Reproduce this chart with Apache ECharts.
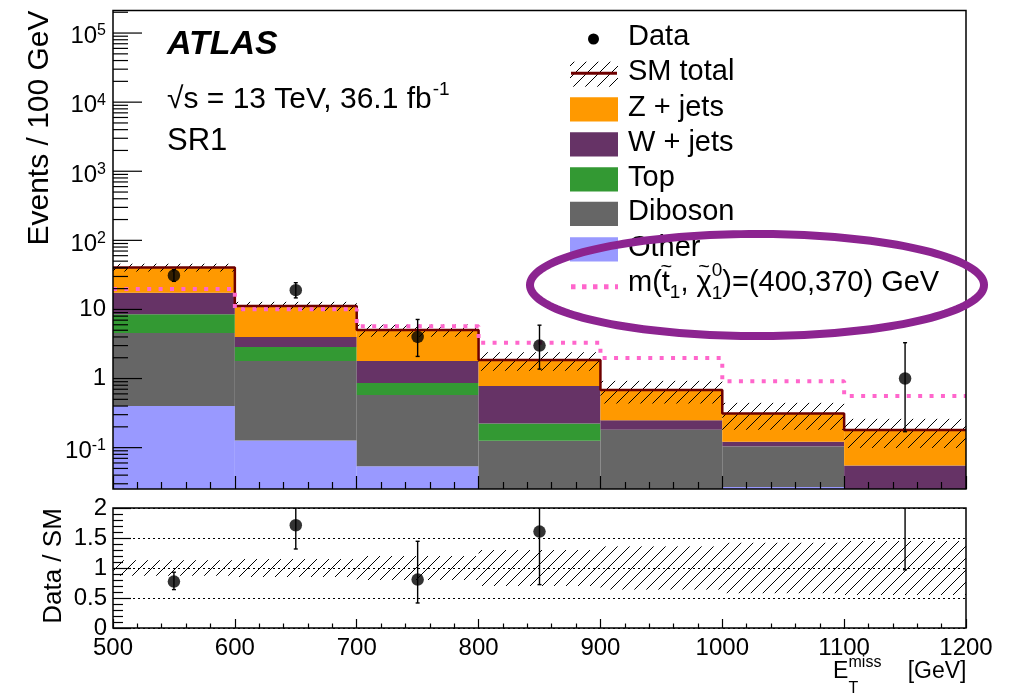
<!DOCTYPE html>
<html><head><meta charset="utf-8">
<script src="https://cdn.jsdelivr.net/npm/echarts@6/dist/echarts.min.js"></script>
<style>html,body{margin:0;padding:0;background:#fff}#c{width:1010px;height:693px}</style>
</head><body><div id="c"></div>
<script>
// ---------------- data ----------------
const binEdges   = [500, 600, 700, 800, 900, 1000, 1100, 1200];
const zJets      = [23.1, 7.22, 3.24, 1.07, 0.43, 0.191, 0.125];
const wJets      = [9.0, 1.12, 0.93, 0.556, 0.068, 0.018, 0.045];
const topQuark   = [3.95, 1.07, 0.28, 0.098, 0.002, 0.001, 0.003];
const diboson    = [4.15, 1.663, 0.526, 0.111, 0.162, 0.076, 0.004];
const other      = [0.40, 0.127, 0.054, 0.015, 0.018, 0.027, 0.003];
const smRelUnc   = [0.13, 0.15, 0.20, 0.30, 0.36, 0.42, 0.45];
const signal     = [19.7, 10.1, 5.7, 3.3, 1.98, 0.91, 0.56];
const dataCounts = [31, 19, 4, 3, 0, 0, 1];
const dataErrUp  = [6.6, 5.4, 3.16, 2.92, 0, 0, 2.3];
const dataErrDown= [5.5, 4.3, 1.91, 1.63, 0, 0, 0.83];
const ratioVals    = [0.773, 1.712, 0.807, 1.607, null, null, 5.5];
const ratioErrLow  = [0.64, 1.317, 0.417, 0.723, null, null, 0.97];
const ratioErrHigh = [0.93, 2.2, 1.445, 2.6, null, null, 18];
const yMajorTicks  = [0.1, 1, 10, 100, 1000, 10000, 100000];
const yTickLabels  = [['10','-1'], ['1',''], ['10',''], ['10','2'], ['10','3'], ['10','4'], ['10','5']];
const legendLabels = ['Data', 'SM total', 'Z + jets', 'W + jets', 'Top', 'Diboson', 'Other'];
const yMin = 0.0252, yMax = 2.12e5;

// ---------------- helpers ----------------
const FONT = "'Liberation Sans', Arial, Helvetica, sans-serif";
const fnt = (s, st) => (st ? st + ' ' : '') + s + 'px ' + FONT;
const mctx = document.createElement('canvas').getContext('2d');
const tw = (t, f) => { mctx.font = f; return mctx.measureText(t).width; };
const COLORS = { z: '#FF9900', w: '#663366', top: '#339933', dib: '#666666', oth: '#9999FF', sig: '#FF66CC', sm: '#6e0000' };
const nb = binEdges.length - 1;

function hatchLines(x0, y0, x1, y1, s, w) {
  const out = [];
  const cStart = Math.ceil((x0 + y0) / s) * s;
  for (let c = cStart; c <= x1 + y1; c += s) {
    const xa = Math.max(x0, c - y1), xb = Math.min(x1, c - y0);
    if (xb > xa) out.push({ type: 'line', shape: { x1: xa, y1: c - xa, x2: xb, y2: c - xb }, style: { stroke: '#000', lineWidth: w || 1 } });
  }
  return out;
}
function clipBox(params, api) {
  const cs = params.coordSys;
  const a = api.coord([api.value(0), api.value(3)]);
  const b = api.coord([api.value(1), api.value(2)]);
  const top = Math.max(Math.min(a[1], b[1]), cs.y);
  const bot = Math.min(Math.max(a[1], b[1]), cs.y + cs.height);
  const left = Math.max(Math.min(a[0], b[0]), cs.x);
  const right = Math.min(Math.max(a[0], b[0]), cs.x + cs.width);
  if (bot - top <= 0.01 || right - left <= 0.01) return null;
  return { x: left, y: top, w: right - left, h: bot - top };
}
const rectRender = color => (params, api) => {
  const r = clipBox(params, api);
  if (!r) return null;
  return { type: 'rect', shape: { x: r.x, y: r.y, width: r.w, height: r.h }, style: { fill: color } };
};
const hatchRender = (params, api) => {
  const r = clipBox(params, api);
  if (!r) return null;
  return { type: 'group', children: hatchLines(r.x, r.y, r.x + r.w, r.y + r.h, 12, 1) };
};
const errRender = (params, api) => {
  const cs = params.coordSys;
  const x = api.value(0);
  const a = api.coord([x, api.value(1)]), b = api.coord([x, api.value(2)]);
  let y1 = Math.min(a[1], b[1]), y2 = Math.max(a[1], b[1]);
  const top = cs.y, bot = cs.y + cs.height;
  const capT = y1 >= top, capB = y2 <= bot;
  y1 = Math.max(y1, top); y2 = Math.min(y2, bot);
  if (y2 <= y1) return null;
  const px = a[0];
  const st = { stroke: '#000', lineWidth: 1.4 };
  const ch = [{ type: 'line', shape: { x1: px, y1: y1, x2: px, y2: y2 }, style: st }];
  if (capT) ch.push({ type: 'line', shape: { x1: px - 2, y1: y1, x2: px + 2, y2: y1 }, style: st });
  if (capB) ch.push({ type: 'line', shape: { x1: px - 2, y1: y2, x2: px + 2, y2: y2 }, style: st });
  return { type: 'group', children: ch };
};
const frameRender = (params) => {
  const c = params.coordSys;
  return { type: 'rect', shape: { x: c.x, y: c.y, width: c.width, height: c.height }, style: { fill: 'none', stroke: '#000', lineWidth: 1.5 } };
};

// ---------------- build series ----------------
const components = [
  { name: 'Other', vals: other, color: COLORS.oth },
  { name: 'Diboson', vals: diboson, color: COLORS.dib },
  { name: 'Top', vals: topQuark, color: COLORS.top },
  { name: 'W + jets', vals: wJets, color: COLORS.w },
  { name: 'Z + jets', vals: zJets, color: COLORS.z }
];
const cum = new Array(nb).fill(0);
const series = [];
components.forEach(c => {
  const rows = [];
  for (let i = 0; i < nb; i++) {
    const lo = cum[i], hi = lo + c.vals[i];
    cum[i] = hi;
    rows.push([binEdges[i], binEdges[i + 1], Math.max(lo, 1e-6), hi]);
  }
  series.push({ type: 'custom', name: c.name, xAxisIndex: 0, yAxisIndex: 0, z: 1, silent: true,
    encode: { x: [0, 1], y: [2, 3] }, data: rows, renderItem: rectRender(c.color) });
});
const smTotal = cum.slice();

// SM uncertainty hatch (main)
series.push({ type: 'custom', xAxisIndex: 0, yAxisIndex: 0, z: 3, silent: true, encode: { x: [0, 1], y: [2, 3] },
  data: smTotal.map((t, i) => [binEdges[i], binEdges[i + 1], t * (1 - smRelUnc[i]), t * (1 + smRelUnc[i])]),
  renderItem: hatchRender });

// step lines
const stepData = arr => arr.map((v, i) => [binEdges[i], v]).concat([[binEdges[nb], arr[nb - 1]]]);
series.push({ type: 'line', xAxisIndex: 0, yAxisIndex: 0, z: 4, step: 'end', symbol: 'none', silent: true,
  data: stepData(smTotal), lineStyle: { color: COLORS.sm, width: 2.5 } });
series.push({ type: 'line', xAxisIndex: 0, yAxisIndex: 0, z: 5, step: 'end', symbol: 'none', silent: true,
  data: stepData(signal), lineStyle: { color: COLORS.sig, width: 4, type: [4, 7.4], cap: 'butt' } });

// data
const centers = binEdges.slice(0, nb).map((e, i) => (e + binEdges[i + 1]) / 2);
const dataRows = [], dataErrRows = [];
dataCounts.forEach((c, i) => {
  if (c > 0) {
    dataRows.push([centers[i], c]);
    dataErrRows.push([centers[i], c - dataErrDown[i], c + dataErrUp[i]]);
  }
});
series.push({ type: 'custom', xAxisIndex: 0, yAxisIndex: 0, z: 6, silent: true, encode: { x: 0, y: [1, 2] },
  data: dataErrRows, renderItem: errRender });
series.push({ type: 'scatter', xAxisIndex: 0, yAxisIndex: 0, z: 7, silent: true, symbol: 'circle', symbolSize: 12.5,
  itemStyle: { color: '#000' }, data: dataRows });

// main y ticks (log), labels
const yTickRows = [];
yMajorTicks.forEach((v, i) => yTickRows.push([binEdges[0], v, 1, i]));
for (let d = -2; d <= 5; d++) for (let k = 2; k <= 9; k++) {
  const v = k * Math.pow(10, d);
  if (v > yMin && v < yMax) yTickRows.push([binEdges[0], v, 0, -1]);
}
series.push({ type: 'custom', xAxisIndex: 0, yAxisIndex: 0, z: 25, silent: true, encode: { x: 0, y: 1 },
  data: yTickRows,
  renderItem: (params, api) => {
    const p = api.coord([api.value(0), api.value(1)]);
    const major = api.value(2) === 1;
    const ch = [{ type: 'line', shape: { x1: p[0], y1: p[1], x2: p[0] + (major ? 29 : 15), y2: p[1] }, style: { stroke: '#000', lineWidth: 1.2 } }];
    if (major) {
      const lab = yTickLabels[api.value(3)];
      const rx = p[0] - 7;
      if (lab[1]) {
        const ew = tw(lab[1], fnt(16));
        ch.push({ type: 'text', x: rx - ew, y: p[1] + 3.7, style: { text: lab[0], font: fnt(24), fill: '#000', textAlign: 'right', align: 'right', textVerticalAlign: 'middle', verticalAlign: 'middle' } });
        ch.push({ type: 'text', x: rx - ew, y: p[1] - 2, style: { text: lab[1], font: fnt(16), fill: '#000', textAlign: 'left', align: 'left', textVerticalAlign: 'middle', verticalAlign: 'middle' } });
      } else {
        ch.push({ type: 'text', x: rx, y: p[1], style: { text: lab[0], font: fnt(24), fill: '#000', textAlign: 'right', align: 'right', textVerticalAlign: 'middle', verticalAlign: 'middle' } });
      }
    }
    return { type: 'group', children: ch };
  } });

// frames
series.push({ type: 'custom', xAxisIndex: 0, yAxisIndex: 0, z: 30, silent: true, encode: { x: 0, y: 1 }, data: [[600, 1]], renderItem: frameRender });
series.push({ type: 'custom', xAxisIndex: 1, yAxisIndex: 1, z: 30, silent: true, encode: { x: 0, y: 1 }, data: [[600, 1]], renderItem: frameRender });

// ratio panel
series.push({ type: 'custom', xAxisIndex: 1, yAxisIndex: 1, z: 2, silent: true, encode: { x: [0, 1], y: [2, 3] },
  data: smRelUnc.map((u, i) => [binEdges[i], binEdges[i + 1], 1 - u, 1 + u]), renderItem: hatchRender });
const rErr = [], rPts = [];
ratioVals.forEach((r, i) => {
  if (ratioErrLow[i] != null) rErr.push([centers[i], ratioErrLow[i], ratioErrHigh[i]]);
  if (r != null) rPts.push([centers[i], r]);
});
series.push({ type: 'custom', xAxisIndex: 1, yAxisIndex: 1, z: 6, silent: true, encode: { x: 0, y: [1, 2] }, data: rErr, renderItem: errRender });
series.push({ type: 'scatter', xAxisIndex: 1, yAxisIndex: 1, z: 7, silent: true, symbol: 'circle', symbolSize: 12.5, clip: true,
  itemStyle: { color: '#000' }, data: rPts });

// ---------------- graphic: texts, legend, ellipse ----------------
const G = [];
const txt = (text, x, y, size, o = {}) => G.push({ type: 'text', x, y, z: 50, rotation: o.rot || 0,
  style: { text, font: fnt(size, o.st), fill: '#000', textAlign: o.al || 'left', align: o.al || 'left', textVerticalAlign: 'middle', verticalAlign: 'middle' } });

txt('ATLAS', 167, 45, 34, { st: 'italic bold' });
const s1 = '\u221As = 13 TeV, 36.1 fb';
txt(s1, 167, 100, 30);
txt('-1', 167 + tw(s1, fnt(30)) + 1, 90, 19);
txt('SR1', 167, 141, 31);

// axis titles
txt('Events / 100 GeV', 40, 128, 30, { al: 'center', rot: Math.PI / 2 });
txt('Data / SM', 54, 566, 26, { al: 'center', rot: Math.PI / 2 });
txt('E', 833, 671.5, 23);
txt('miss', 848.5, 663, 16);
txt('T', 848.5, 689, 16);
txt('[GeV]', 966.5, 671.5, 23, { al: 'right' });

// legend
const LX = 570, LW = 48, TX = 628;
const rowY = [36.7, 72, 107.5, 142.5, 177.5, 212, 247.5];
G.push({ type: 'circle', z: 50, shape: { cx: 593.5, cy: 39, r: 5.5 }, style: { fill: '#000' } });
G.push({ type: 'group', z: 50, children: hatchLines(LX, 61.7, LX + LW, 86.7, 12, 1) });
G.push({ type: 'line', z: 51, shape: { x1: LX + 1, y1: 73.3, x2: LX + LW - 1, y2: 73.3 }, style: { stroke: COLORS.sm, lineWidth: 3 } });
[COLORS.z, COLORS.w, COLORS.top, COLORS.dib, COLORS.oth].forEach((c, k) => {
  G.push({ type: 'rect', z: 50, shape: { x: LX, y: rowY[k + 2] - 10.3, width: LW, height: 24.4 }, style: { fill: c } });
});
legendLabels.forEach((l, k) => txt(l, TX, rowY[k], 29));
G.push({ type: 'line', z: 50, shape: { x1: LX + 1, y1: 286.7, x2: LX + LW, y2: 286.7 }, style: { stroke: COLORS.sig, lineWidth: 5, lineDash: [4.5, 6.5] } });
(function () {
  const f29 = fnt(29), f19 = fnt(19);
  let x = TX; const y = 283;
  txt('m(', x, y, 29); x += tw('m(', f29);
  const wt = tw('t', f29);
  txt('~', x + wt / 2 + 0.5, y - 16, 20, { al: 'center' });
  txt('t', x, y, 29); x += wt;
  txt('1', x, y + 10, 19); x += tw('1', f19);
  txt(', ', x, y, 29); x += tw(', ', f29);
  const wc = tw('\u03C7', f29);
  txt('~', x + wc / 2, y - 16, 20, { al: 'center' });
  txt('\u03C7', x, y, 29); x += wc;
  txt('0', x, y - 12, 19);
  txt('1', x, y + 11, 19); x += tw('0', f19);
  txt(')=(400,370) GeV', x, y, 29);
})();

// highlight ellipse
const ell = [];
for (let k = 0; k < 180; k++) { const t = k / 180 * Math.PI * 2; ell.push([757 + 227 * Math.cos(t), 285 + 51 * Math.sin(t)]); }
G.push({ type: 'polygon', z: 60, shape: { points: ell }, style: { fill: 'none', stroke: '#8c2490', lineWidth: 8 } });

// ---------------- option ----------------
const axBase = { type: 'value', min: binEdges[0], max: binEdges[nb], interval: 100, z: 20, axisLine: { show: false }, splitLine: { show: false } };
const option = {
  animation: false,
  backgroundColor: '#fff',
  grid: [
    { left: 113, top: 10.5, width: 853, height: 478.5, outerBoundsMode: 'none' },
    { left: 113, top: 508, width: 853, height: 120, outerBoundsMode: 'none' }
  ],
  xAxis: [
    Object.assign({}, axBase, { gridIndex: 0, axisLabel: { show: false },
      axisTick: { inside: true, length: 13, lineStyle: { color: '#000', width: 1.2 } },
      minorTick: { show: true, splitNumber: 5, length: 7, lineStyle: { color: '#000', width: 1.2 } } }),
    Object.assign({}, axBase, { gridIndex: 1,
      axisLabel: { show: true, fontSize: 24, fontFamily: FONT, color: '#000', margin: 8, formatter: v => String(v) },
      axisTick: { inside: true, length: 9, lineStyle: { color: '#000', width: 1.2 } },
      minorTick: { show: true, splitNumber: 5, length: 4.5, lineStyle: { color: '#000', width: 1.2 } } })
  ],
  yAxis: [
    { gridIndex: 0, type: 'log', logBase: 10, min: yMin, max: yMax, axisLine: { show: false }, axisLabel: { show: false },
      axisTick: { show: false }, minorTick: { show: false }, splitLine: { show: false } },
    { gridIndex: 1, type: 'value', min: 0, max: 2, interval: 0.5, z: 20, axisLine: { show: false },
      axisLabel: { fontSize: 24, fontFamily: FONT, color: '#000', margin: 6, formatter: v => String(v) },
      axisTick: { inside: true, length: 18, lineStyle: { color: '#000', width: 1.2 } },
      minorTick: { show: true, splitNumber: 5, length: 10, lineStyle: { color: '#000', width: 1.2 } },
      splitLine: { show: true, lineStyle: { type: [2, 3], color: '#000', width: 1 } } }
  ],
  series: series,
  graphic: { elements: G }
};
const chart = echarts.init(document.getElementById('c'), null, { renderer: 'canvas' });
chart.setOption(option);
</script></body></html>
